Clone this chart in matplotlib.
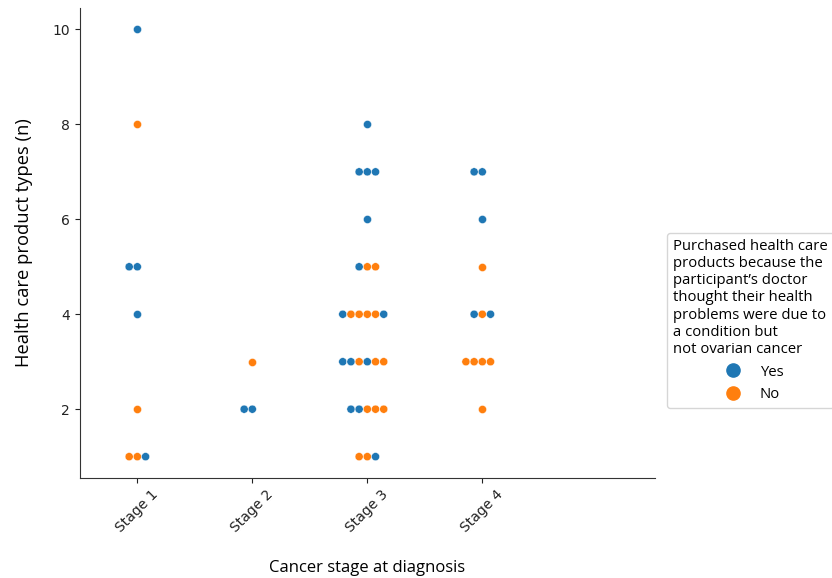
import matplotlib.pyplot as plt
import numpy as np
from matplotlib.lines import Line2D

# Counts per stage, grouped by value; colours listed left to right as in the swarm
stages = ['Stage 1', 'Stage 2', 'Stage 3', 'Stage 4']
stage1 = {10: ['Yes'], 8: ['No'], 5: ['Yes', 'Yes'], 4: ['Yes'], 2: ['No'],
          1: ['No', 'No', 'Yes']}
stage2 = {3: ['No'], 2: ['Yes', 'Yes']}
stage3 = {8: ['Yes'], 7: ['Yes', 'Yes', 'Yes'], 6: ['Yes'], 5: ['Yes', 'No', 'No'],
          4: ['Yes', 'No', 'No', 'No', 'No', 'Yes'],
          3: ['Yes', 'Yes', 'No', 'Yes', 'No', 'No'],
          2: ['Yes', 'Yes', 'No', 'No', 'No'],
          1: ['No', 'No', 'Yes']}
stage4 = {7: ['Yes', 'Yes'], 6: ['Yes'], 5: ['No'], 4: ['Yes', 'No', 'Yes'],
          3: ['No', 'No', 'No', 'No'], 2: ['No']}
groups = [stage1, stage2, stage3, stage4]

colors = {'Yes': '#1f77b4', 'No': '#ff7f0e'}
spacing = 0.0713  # swarm step in category units

fig = plt.figure(figsize=(8.32, 5.78), dpi=100)
ax = fig.add_axes([0.096, 0.173, 0.691, 0.813])

for i, grp in enumerate(groups):
    for val, resp in grp.items():
        n = len(resp)
        slots = np.arange(-(n // 2), n - n // 2)
        xs = i + slots * spacing
        ax.scatter(xs, [val] * n, s=34, c=[colors[r] for r in resp],
                   edgecolors='white', linewidths=0.3, zorder=3)

ax.set_xlim(-0.5, 4.5)
ax.set_ylim(0.55, 10.45)
ax.set_xticks(range(len(stages)))
ax.set_xticklabels(stages, rotation=45, fontsize=10)
ax.set_yticks([2, 4, 6, 8, 10])
ax.tick_params(labelsize=10, colors='#222222')
for side in ['top', 'right']:
    ax.spines[side].set_visible(False)
for side in ['left', 'bottom']:
    ax.spines[side].set_color('#333333')

ax.set_xlabel('Cancer stage at diagnosis', fontfamily='Open Sans', fontsize=12, labelpad=18)
ax.set_ylabel('Health care product types (n)', fontfamily='Open Sans', fontsize=13.2, labelpad=14)

handles = [Line2D([], [], marker='o', linestyle='', markersize=9.5, color=colors[k], label=k)
           for k in ['Yes', 'No']]
title = ('Purchased health care\nproducts because the\nparticipant\u2019s doctor\n'
         'thought their health\nproblems were due to\na condition but\nnot ovarian cancer')
leg = fig.legend(handles=handles, title=title, loc='upper left',
                 bbox_to_anchor=(0.802, 0.597), borderaxespad=0, frameon=True,
                 prop={'family': 'Open Sans', 'size': 10.7},
                 title_fontproperties={'family': 'Open Sans', 'size': 10.7})
leg.get_title().set_multialignment('left')
leg.get_frame().set_edgecolor('#cccccc')

fig.savefig('out.png', dpi=100)
